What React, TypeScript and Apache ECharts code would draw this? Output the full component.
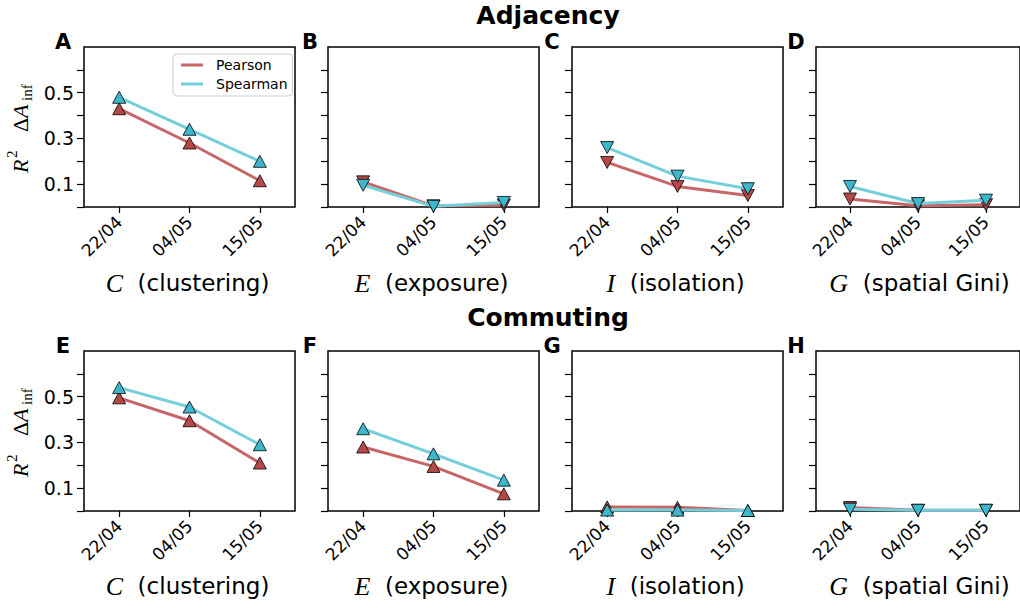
import React, { useEffect, useRef } from "react";
import * as echarts from "echarts";

const dates = ["22/04", "04/05", "15/05"];
const panelLetters = ["A", "B", "C", "D", "E", "F", "G", "H"];
const rowTitles = ["Adjacency", "Commuting"];
const metricSymbols = ["C", "E", "I", "G"];
const metricNames = ["(clustering)", "(exposure)", "(isolation)", "(spatial Gini)"];
const yTickValues = [0, 0.1, 0.2, 0.3, 0.4, 0.5, 0.6];
const yLabelValues = [0.1, 0.3, 0.5];

// Adjacency
const pearsonA = [0.43, 0.28, 0.115];
const spearmanA = [0.48, 0.34, 0.2];
const pearsonB = [0.11, 0.005, 0.008];
const spearmanB = [0.095, 0.003, 0.02];
const pearsonC = [0.195, 0.09, 0.05];
const spearmanC = [0.26, 0.135, 0.08];
const pearsonD = [0.035, 0.005, 0.01];
const spearmanD = [0.09, 0.015, 0.03];
// Commuting
const pearsonE = [0.495, 0.395, 0.21];
const spearmanE = [0.54, 0.455, 0.29];
const pearsonF = [0.28, 0.195, 0.075];
const spearmanF = [0.36, 0.25, 0.135];
const pearsonG = [0.018, 0.016, 0.002];
const spearmanG = [0.004, 0.004, 0.002];
const pearsonH = [0.015, 0.003, 0.003];
const spearmanH = [0.008, 0.003, 0.003];

const pearsonSets = [pearsonA, pearsonB, pearsonC, pearsonD, pearsonE, pearsonF, pearsonG, pearsonH];
const spearmanSets = [spearmanA, spearmanB, spearmanC, spearmanD, spearmanE, spearmanF, spearmanG, spearmanH];
const upMarkers = [true, false, false, false, true, true, true, false];

const P_LINE = "#c66666";
const S_LINE = "#74cfdb";
const P_MARK = "#b84848";
const S_MARK = "#3db7cb";

const GRID_LEFTS = [84, 328, 572, 816];
const GRID_TOPS = [47, 351];
const GRID_W = 211;
const GRID_H = 160;
const SANS = '"DejaVu Sans", sans-serif';
const SERIF = '"Liberation Serif", "DejaVu Serif", serif';

function buildOption() {
  const grid: any[] = [];
  const xAxis: any[] = [];
  const yAxis: any[] = [];
  const series: any[] = [];
  const graphic: any[] = [];

  for (let i = 0; i < 8; i++) {
    const row = Math.floor(i / 4);
    const col = i % 4;
    grid.push({
      left: GRID_LEFTS[col],
      top: GRID_TOPS[row],
      width: GRID_W,
      height: GRID_H,
      show: true,
      borderColor: "#000",
      borderWidth: 1.5,
      backgroundColor: "transparent",
    });
    xAxis.push({
      type: "category",
      gridIndex: i,
      data: dates,
      boundaryGap: true,
      axisLine: { show: false },
      axisTick: { show: true, alignWithLabel: true, length: 6, lineStyle: { color: "#000", width: 1.2 } },
      axisLabel: { rotate: 45, fontSize: 17, color: "#000", fontFamily: SANS, margin: 12 },
      splitLine: { show: false },
    });
    yAxis.push({
      type: "value",
      gridIndex: i,
      min: 0,
      max: 0.7,
      interval: 0.1,
      axisLine: { show: false },
      axisTick: { show: true, length: 7, customValues: yTickValues, lineStyle: { color: "#000", width: 1.2 } },
      axisLabel: {
        show: col === 0,
        customValues: yLabelValues,
        fontSize: 19,
        color: "#000",
        fontFamily: SANS,
        margin: 10,
        formatter: (v: number) => v.toFixed(1),
      },
      splitLine: { show: false },
    });
    const rot = upMarkers[i] ? 0 : 180;
    series.push({
      type: "line",
      name: "Pearson",
      xAxisIndex: i,
      yAxisIndex: i,
      data: pearsonSets[i],
      lineStyle: { color: P_LINE, width: 3 },
      symbol: "triangle",
      symbolSize: [13, 12],
      symbolRotate: rot,
      itemStyle: { color: P_MARK, borderColor: "#000", borderWidth: 0.8 },
      emphasis: { disabled: true },
      z: 2,
    });
    series.push({
      type: "line",
      name: "Spearman",
      xAxisIndex: i,
      yAxisIndex: i,
      data: spearmanSets[i],
      lineStyle: { color: S_LINE, width: 3 },
      symbol: "triangle",
      symbolSize: [13, 12],
      symbolRotate: rot,
      itemStyle: { color: S_MARK, borderColor: "#000", borderWidth: 0.8 },
      emphasis: { disabled: true },
      z: 3,
    });

    // panel letter
    const letterX = [63, 310, 552, 796][col];
    const letterY = [42, 346][row];
    graphic.push({
      type: "text",
      x: letterX,
      y: letterY,
      style: {
        text: panelLetters[i],
        fontFamily: SANS,
        fontWeight: "bold",
        fontSize: 21,
        lineHeight: 22,
        fill: "#000",
        align: "center",
        verticalAlign: "middle",
      },
    });
    // x-axis name
    graphic.push({
      type: "text",
      x: GRID_LEFTS[col] + GRID_W / 2 - 2,
      y: [283, 586][row],
      style: {
        text: "{m|" + metricSymbols[col] + "}  " + metricNames[col],
        fontFamily: SANS,
        fontSize: 23,
        fill: "#000",
        align: "center",
        verticalAlign: "middle",
        rich: {
          m: { fontFamily: SERIF, fontStyle: "italic", fontSize: 26, fill: "#000" },
        },
      },
    });
  }

  // row titles
  for (let r = 0; r < 2; r++) {
    graphic.push({
      type: "text",
      x: 548,
      y: [15, 317][r],
      style: {
        text: rowTitles[r],
        fontFamily: SANS,
        fontWeight: "bold",
        fontSize: 25,
        lineHeight: 26,
        fill: "#000",
        align: "center",
        verticalAlign: "middle",
      },
    });
    // y-axis label (rotated)
    graphic.push({
      type: "group",
      x: 20,
      y: [173, 477][r],
      rotation: Math.PI / 2,
      children: [
        { type: "text", x: 0, y: 0, style: { text: "R", fontFamily: SERIF, fontStyle: "italic", fontSize: 22, fill: "#000", align: "left", verticalAlign: "middle" } },
        { type: "text", x: 15, y: -8, style: { text: "2", fontFamily: SERIF, fontSize: 15, fill: "#000", align: "left", verticalAlign: "middle" } },
        { type: "text", x: 41, y: 0, style: { text: "Δ", fontFamily: SERIF, fontSize: 22, fill: "#000", align: "left", verticalAlign: "middle" } },
        { type: "text", x: 55, y: 0, style: { text: "A", fontFamily: SERIF, fontStyle: "italic", fontSize: 22, fill: "#000", align: "left", verticalAlign: "middle" } },
        { type: "text", x: 72, y: 7, style: { text: "inf", fontFamily: SERIF, fontSize: 15, fill: "#000", align: "left", verticalAlign: "middle" } },
      ],
    });
  }

  return {
    animation: false,
    backgroundColor: "#fff",
    legend: {
      show: true,
      orient: "vertical",
      left: 173,
      top: 54,
      padding: [4, 5, 5, 8],
      itemGap: 5,
      itemWidth: 22,
      itemHeight: 3,
      borderColor: "#cccccc",
      borderWidth: 1,
      borderRadius: 4,
      backgroundColor: "#fff",
      icon: "rect",
      textStyle: { fontSize: 14, color: "#000", fontFamily: SANS, padding: [0, 0, 0, 8] },
      itemStyle: { borderWidth: 0 },
      data: [
        { name: "Pearson", itemStyle: { color: P_LINE, borderWidth: 0 } },
        { name: "Spearman", itemStyle: { color: S_LINE, borderWidth: 0 } },
      ],
      selectedMode: false,
    },
    grid,
    xAxis,
    yAxis,
    series,
    graphic,
  };
}

export default function App() {
  const ref = useRef<HTMLDivElement>(null);
  useEffect(() => {
    if (!ref.current) return;
    const chart = echarts.init(ref.current, undefined, { renderer: "svg" });
    chart.setOption(buildOption() as any);
    return () => chart.dispose();
  }, []);
  return (
    <div
      ref={ref}
      style={{ position: "absolute", left: 0, top: 0, width: 1020, height: 608 }}
    />
  );
}
